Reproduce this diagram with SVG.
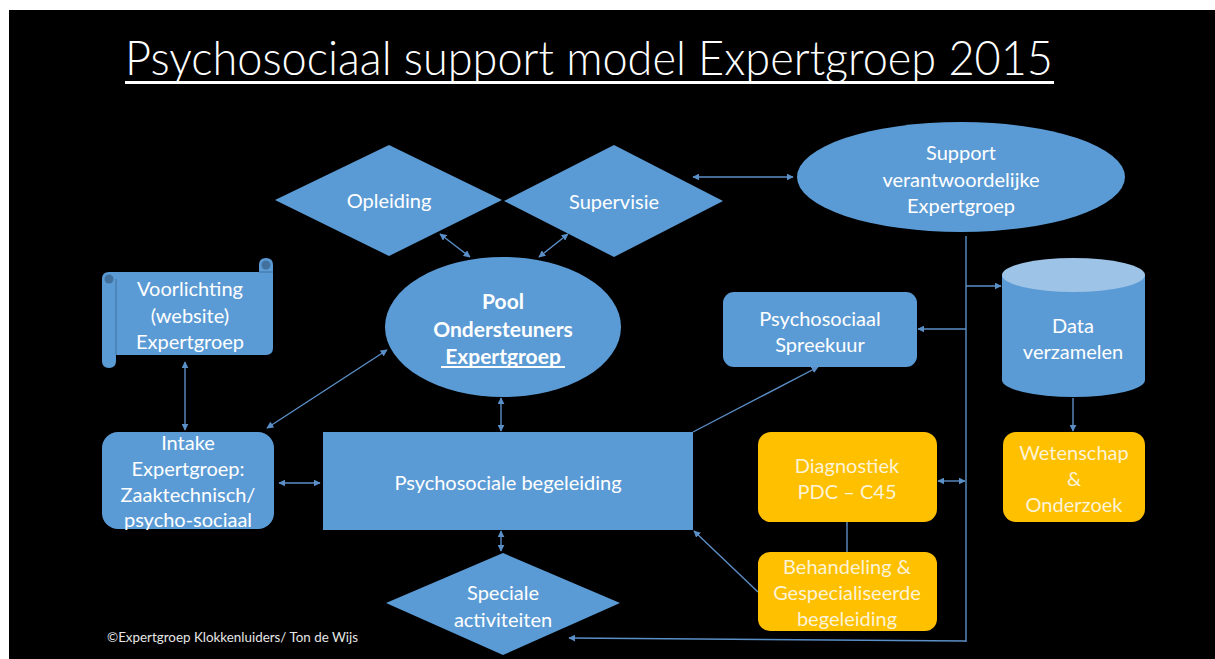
<svg xmlns="http://www.w3.org/2000/svg" width="1215" height="659" viewBox="0 0 1215 659">
<style>
.blue{fill:#5b9bd5;}
.orange{fill:#ffc000;}
.t{font-family:Lato,"Open Sans","Liberation Sans",sans-serif;font-size:20px;fill:#ffffff;text-anchor:middle;dominant-baseline:central;}
.to{fill:#fdf3d6;}
.b{font-weight:bold;}
.c{fill:none;stroke:#5b8fc7;stroke-width:1.4;}
</style>
<defs>
<marker id="ah" viewBox="0 0 10 10" refX="9" refY="5" markerWidth="7" markerHeight="7" markerUnits="userSpaceOnUse" orient="auto-start-reverse">
<path d="M0,0 L10,5 L0,10 Z" fill="#5b8fc7"/>
</marker>
</defs>
<rect x="0" y="0" width="1215" height="659" fill="#ffffff"/>
<rect x="9" y="10" width="1206" height="649" fill="#000000"/>

<g id="title">
<text x="125" y="75" textLength="928" lengthAdjust="spacingAndGlyphs" style="font-family:Lato,'Open Sans',sans-serif;font-weight:300;font-size:47px;fill:#ffffff;">Psychosociaal support model Expertgroep 2015</text>
<rect x="125" y="81" width="929" height="3" fill="#ffffff"/>
</g>

<g id="connectors">
<line class="c" x1="693" y1="177" x2="793" y2="177" marker-start="url(#ah)" marker-end="url(#ah)"/>
<line class="c" x1="440" y1="234" x2="470" y2="257" marker-start="url(#ah)" marker-end="url(#ah)"/>
<line class="c" x1="568" y1="234" x2="539" y2="257" marker-start="url(#ah)" marker-end="url(#ah)"/>
<line class="c" x1="267" y1="428" x2="387" y2="350" marker-start="url(#ah)" marker-end="url(#ah)"/>
<line class="c" x1="185" y1="362" x2="185" y2="430" marker-start="url(#ah)" marker-end="url(#ah)"/>
<line class="c" x1="279" y1="483" x2="320" y2="483" marker-start="url(#ah)" marker-end="url(#ah)"/>
<line class="c" x1="501" y1="398" x2="501" y2="431" marker-start="url(#ah)" marker-end="url(#ah)"/>
<line class="c" x1="501" y1="531" x2="501" y2="551" marker-start="url(#ah)" marker-end="url(#ah)"/>
<line class="c" x1="693" y1="432" x2="818" y2="367" marker-end="url(#ah)"/>
<line class="c" x1="758" y1="592" x2="694" y2="531" marker-end="url(#ah)"/>
<line class="c" x1="847" y1="522" x2="847" y2="552"/>
<line class="c" x1="966" y1="236" x2="966" y2="642"/>
<line class="c" x1="966" y1="286" x2="1001" y2="286" marker-end="url(#ah)"/>
<line class="c" x1="966" y1="329" x2="918" y2="329" marker-end="url(#ah)"/>
<line class="c" x1="938" y1="481" x2="965" y2="481" marker-start="url(#ah)" marker-end="url(#ah)"/>
<line class="c" x1="966" y1="641" x2="569" y2="638" marker-end="url(#ah)"/>
<line class="c" x1="1073" y1="398" x2="1073" y2="431" marker-end="url(#ah)"/>
</g>

<g id="opleiding">
<polygon class="blue" points="275,200 389,145 502,200 389,256"/>
<text class="t" x="389" y="200">Opleiding</text>
</g>
<g id="supervisie">
<polygon class="blue" points="504,201 614,145 723,201 614,257"/>
<text class="t" x="614" y="201">Supervisie</text>
</g>
<g id="support">
<ellipse class="blue" cx="961" cy="177" rx="164" ry="55"/>
<text class="t" x="961" y="152">Support</text>
<text class="t" x="961" y="179">verantwoordelijke</text>
<text class="t" x="961" y="205">Expertgroep</text>
</g>
<g id="voorlichting">
<path class="blue" d="M102,279 Q102,272 109,272 L259,272 L259,265 Q259,258 266,258 Q273,258 273,265 L273,348 Q273,355 266,355 L116,355 L116,361 Q116,368 109,368 Q102,368 102,361 Z"/>
<circle cx="266" cy="265" r="4.5" fill="#41719c"/>
<circle cx="109" cy="279" r="4.5" fill="#41719c"/>
<line x1="116" y1="279" x2="116" y2="355" stroke="#41719c" stroke-width="1"/>
<line x1="259" y1="272" x2="273" y2="272" stroke="#41719c" stroke-width="1"/>
<text class="t" x="190" y="288">Voorlichting</text>
<text class="t" x="190" y="315">(website)</text>
<text class="t" x="190" y="341">Expertgroep</text>
</g>
<g id="pool">
<ellipse class="blue" cx="503" cy="327" rx="118" ry="70"/>
<text class="t b" x="503" y="300" style="font-size:21px">Pool</text>
<text class="t b" x="503" y="328" style="font-size:21px">Ondersteuners</text>
<text class="t b" x="503" y="355" style="font-size:21px">Expertgroep</text>
<rect x="441" y="366" width="124" height="2" fill="#ffffff"/>
</g>
<g id="spreekuur">
<rect class="blue" x="723" y="292" width="194" height="75" rx="11"/>
<text class="t" x="820" y="318">Psychosociaal</text>
<text class="t" x="820" y="344">Spreekuur</text>
</g>
<g id="data">
<path class="blue" d="M1002,275 L1002,380 A71.5,17 0 0 0 1145,380 L1145,275 Z"/>
<ellipse cx="1073.5" cy="275" rx="71.5" ry="17" fill="#9dc3e6"/>
<text class="t" x="1073" y="325">Data</text>
<text class="t" x="1073" y="351">verzamelen</text>
</g>
<g id="intake">
<rect class="blue" x="102" y="432" width="172" height="97" rx="16"/>
<text class="t" x="188" y="442">Intake</text>
<text class="t" x="188" y="468">Expertgroep:</text>
<text class="t" x="188" y="494">Zaaktechnisch/</text>
<text class="t" x="188" y="519">psycho-sociaal</text>
</g>
<g id="begeleiding">
<rect class="blue" x="323" y="432" width="370" height="98"/>
<text class="t" x="508" y="482">Psychosociale begeleiding</text>
</g>
<g id="diagnostiek">
<rect class="orange" x="758" y="432" width="179" height="90" rx="13"/>
<text class="t to" x="847" y="465">Diagnostiek</text>
<text class="t to" x="847" y="491">PDC – C45</text>
</g>
<g id="behandeling">
<rect class="orange" x="758" y="552" width="179" height="79" rx="12"/>
<text class="t to" x="847" y="566">Behandeling &amp;</text>
<text class="t to" x="847" y="592">Gespecialiseerde</text>
<text class="t to" x="847" y="618">begeleiding</text>
</g>
<g id="wetenschap">
<rect class="orange" x="1003" y="432" width="142" height="90" rx="13"/>
<text class="t to" x="1074" y="452">Wetenschap</text>
<text class="t to" x="1074" y="478">&amp;</text>
<text class="t to" x="1074" y="504">Onderzoek</text>
</g>
<g id="speciale">
<polygon class="blue" points="386,603 503,553 620,603 503,655"/>
<text class="t" x="503" y="592">Speciale</text>
<text class="t" x="503" y="619">activiteiten</text>
</g>
<g id="copyright">
<text x="107" y="642" style="font-family:Lato,'Open Sans',sans-serif;font-size:13.4px;fill:#e6e6e6;">©Expertgroep Klokkenluiders/ Ton de Wijs</text>
</g>
</svg>
